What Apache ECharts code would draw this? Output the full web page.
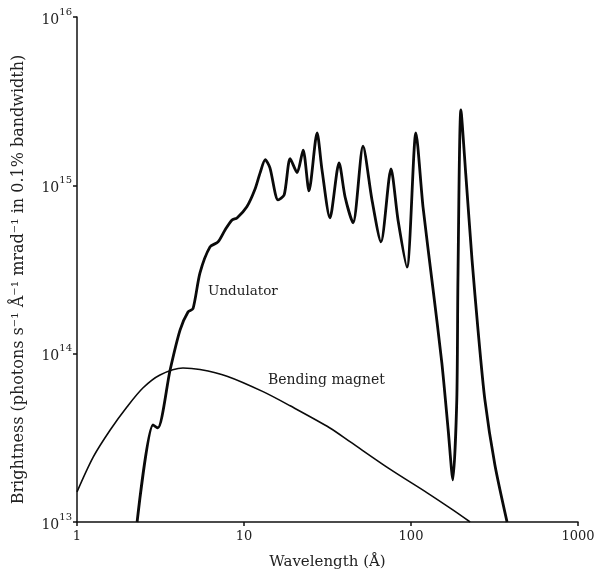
<!DOCTYPE html>
<html>
<head>
<meta charset="utf-8">
<script src="https://cdn.jsdelivr.net/npm/echarts@6/dist/echarts.min.js"></script>
<style>html,body{margin:0;padding:0;background:#fff;}#c{width:599px;height:575px;}</style>
</head>
<body>
<div id="c"></div>
<script>
// Wavelength (Å) and brightness
const undX = [2.29, 2.85, 3.05, 3.61, 4.14, 4.62, 4.95, 5.45, 6.26, 6.99, 7.70, 8.48, 9.08, 10.4, 11.6, 12.5, 13.4, 14.3, 16.0, 17.4, 18.9, 20.8, 22.6, 24.5, 27.4, 29.3, 32.7, 37.1, 40.3, 45.0, 51.6, 58.4, 66.1, 75.9, 83.6, 94.6, 107, 118, 135, 153, 167, 178, 188, 191, 199, 213, 232, 252, 277, 318, 376];
const undY = [1.0e13, 3.77e13, 3.62e13, 8.0e13, 1.38e14, 1.77e14, 1.85e14, 3.02e14, 4.31e14, 4.61e14, 5.43e14, 6.23e14, 6.40e14, 7.45e14, 9.4e14, 1.19e15, 1.42e15, 1.27e15, 8.19e14, 8.77e14, 1.44e15, 1.19e15, 1.62e15, 9.27e14, 2.05e15, 1.24e15, 6.40e14, 1.36e15, 8.53e14, 5.98e14, 1.71e15, 8.19e14, 4.61e14, 1.25e15, 6.23e14, 3.27e14, 2.05e15, 7.45e14, 2.49e14, 8.81e13, 3.52e13, 1.78e13, 5.31e13, 2.74e14, 2.81e15, 1.15e15, 3.61e14, 1.38e14, 5.31e13, 2.18e13, 1.0e13];
const bmX = [1, 1.25, 1.58, 1.99, 2.48, 3.14, 4.31, 5.45, 7.91, 13.0, 18.9, 32.7, 43.1, 74.8, 125, 178, 226];
const bmY = [1.51e13, 2.43e13, 3.52e13, 4.82e13, 6.25e13, 7.47e13, 8.22e13, 8.05e13, 7.35e13, 5.95e13, 4.9e13, 3.62e13, 3.0e13, 2.06e13, 1.49e13, 1.18e13, 1.0e13];
const xTickLabels = {1: '1', 10: '10', 100: '100', 1000: '1000'};
const yTickExp = {1e13: '13', 1e14: '14', 1e15: '15', 1e16: '16'};
const seriesNames = ['Undulator', 'Bending magnet'];

const undData = undX.map((x, i) => [x, undY[i]]);
const bmData = bmX.map((x, i) => [x, bmY[i]]);

const FONT = '"DejaVu Serif", "Liberation Serif", serif';
const chart = echarts.init(document.getElementById('c'), null, {renderer: 'canvas'});
chart.setOption({
  backgroundColor: '#ffffff',
  animation: false,
  grid: {left: 77, right: 21, top: 17, bottom: 53, containLabel: false},
  xAxis: {
    type: 'log', logBase: 10, min: 1, max: 1000,
    name: 'Wavelength (Å)', nameLocation: 'middle', nameGap: 33,
    nameTextStyle: {fontFamily: FONT, fontSize: 15, color: '#222'},
    axisLine: {lineStyle: {color: '#111', width: 1.5}},
    axisTick: {show: true, inside: false, length: 4, lineStyle: {color: '#111', width: 1.5}},
    minorTick: {show: false},
    splitLine: {show: false},
    axisLabel: {
      fontFamily: FONT, fontSize: 13, color: '#222', margin: 8,
      formatter: v => xTickLabels[Math.round(v)] || ''
    }
  },
  yAxis: {
    type: 'log', logBase: 10, min: 1e13, max: 1e16,
    name: 'Brightness (photons s\u207B\u00B9 \u00C5\u207B\u00B9 mrad\u207B\u00B9 in 0.1% bandwidth)',
    nameLocation: 'middle', nameGap: 50, nameRotate: 90,
    nameTextStyle: {fontFamily: FONT, fontSize: 16, color: '#222', padding: [0, 20, 0, 0]},
    axisLine: {show: true, lineStyle: {color: '#111', width: 1.5}},
    axisTick: {show: true, inside: false, length: 4, lineStyle: {color: '#111', width: 1.5}},
    minorTick: {show: false},
    splitLine: {show: false},
    axisLabel: {
      fontFamily: FONT, color: '#222', margin: 5,
      formatter: v => {
        const e = yTickExp[v] || String(Math.round(Math.log10(v)));
        return '{b|10}{s|' + e + '}';
      },
      rich: {
        b: {fontFamily: FONT, fontSize: 14, color: '#222', padding: [6, 0, 0, 0]},
        s: {fontFamily: FONT, fontSize: 10, color: '#222', verticalAlign: 'top', padding: [0, 0, 6, 0]}
      }
    }
  },
  series: [
    {
      name: seriesNames[0], type: 'line', data: undData, smooth: 0.25,
      showSymbol: false, symbol: 'none',
      lineStyle: {color: '#0a0a0a', width: 2.8}
    },
    {
      name: seriesNames[1], type: 'line', data: bmData, smooth: 0.3,
      showSymbol: false, symbol: 'none',
      lineStyle: {color: '#0a0a0a', width: 1.6}
    }
  ],
  graphic: [
    {type: 'text', left: 208, top: 284, style: {text: seriesNames[0], font: '13.5px ' + FONT, fill: '#222'}},
    {type: 'text', left: 268, top: 373, style: {text: seriesNames[1], font: '14px ' + FONT, fill: '#222'}}
  ]
});
</script>
</body>
</html>
